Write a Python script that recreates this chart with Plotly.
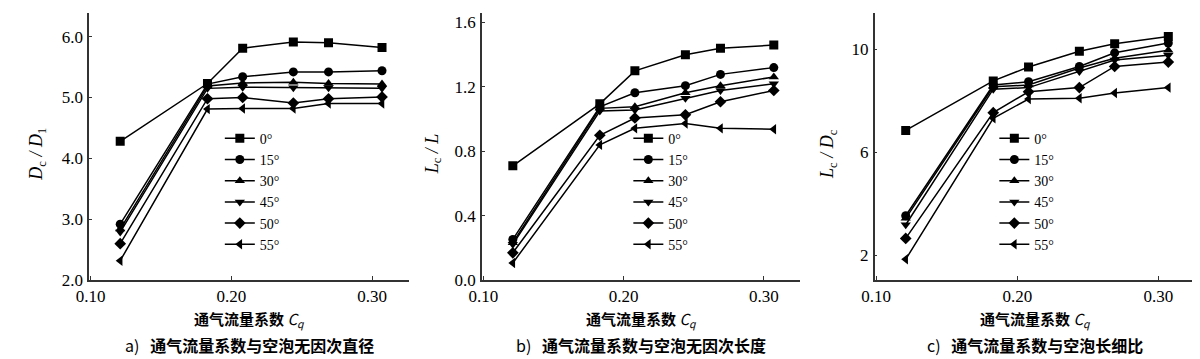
import plotly.graph_objects as go

# ---------------- data ----------------
cq = [0.121, 0.183, 0.208, 0.244, 0.269, 0.307]
angle_labels = ["0°", "15°", "30°", "45°", "50°", "55°"]
symbols = ["square", "circle", "triangle-up", "triangle-down", "diamond", "triangle-left"]

# a) Dc/D1
dcd1_0 = [4.28, 5.23, 5.81, 5.91, 5.90, 5.82]
dcd1_15 = [2.92, 5.22, 5.34, 5.42, 5.42, 5.44]
dcd1_30 = [2.84, 5.19, 5.24, 5.25, 5.23, 5.22]
dcd1_45 = [2.79, 5.15, 5.17, 5.16, 5.16, 5.15]
dcd1_50 = [2.60, 4.98, 5.00, 4.91, 4.98, 5.01]
dcd1_55 = [2.32, 4.81, 4.82, 4.82, 4.90, 4.90]

# b) Lc/L
lcl_0 = [0.71, 1.095, 1.30, 1.40, 1.44, 1.46]
lcl_15 = [0.253, 1.077, 1.164, 1.208, 1.278, 1.32]
lcl_30 = [0.233, 1.067, 1.077, 1.164, 1.208, 1.262]
lcl_45 = [0.223, 1.05, 1.057, 1.13, 1.178, 1.22]
lcl_50 = [0.17, 0.90, 1.007, 1.027, 1.108, 1.178]
lcl_55 = [0.107, 0.84, 0.943, 0.973, 0.943, 0.937]

# c) Lc/Dc
lcdc_0 = [6.85, 8.77, 9.31, 9.92, 10.21, 10.49]
lcdc_15 = [3.54, 8.61, 8.74, 9.33, 9.86, 10.24]
lcdc_30 = [3.44, 8.54, 8.61, 9.27, 9.65, 9.96]
lcdc_45 = [3.19, 8.45, 8.51, 9.14, 9.58, 9.77]
lcdc_50 = [2.66, 7.54, 8.35, 8.51, 9.33, 9.50]
lcdc_55 = [1.85, 7.32, 8.07, 8.10, 8.30, 8.51]

panel_series = [
    [dcd1_0, dcd1_15, dcd1_30, dcd1_45, dcd1_50, dcd1_55],
    [lcl_0, lcl_15, lcl_30, lcl_45, lcl_50, lcl_55],
    [lcdc_0, lcdc_15, lcdc_30, lcdc_45, lcdc_50, lcdc_55],
]

x_title = "<b>通气流量系数</b> <i>C</i><sub><i>q</i></sub>"
y_titles = [
    "<i>D</i><sub>c</sub><i> / D</i><sub>1</sub>",
    "<i>L</i><sub>c</sub><i> / L</i>",
    "<i>L</i><sub>c</sub><i> / D</i><sub>c</sub>",
]
captions = [
    "a)   <b>通气流量系数与空泡无因次直径</b>",
    "b)   <b>通气流量系数与空泡无因次长度</b>",
    "c)   <b>通气流量系数与空泡长细比</b>",
]
y_ranges = [[2.0, 6.39], [0.0, 1.66], [1.04, 11.41]]
y_ticks = [[2, 3, 4, 5, 6], [0, 0.4, 0.8, 1.2, 1.6], [2, 6, 10]]
y_formats = [".1f", ".1f", "d"]
x_ticks = [0.10, 0.20, 0.30]

# ---------------- layout geometry ----------------
W, H = 1200, 359
x_doms_px = [(69, 392), (466, 788), (863, 1187)]
y_dom_px = (5, 280)
legend_left_px = [201, 614, 984]
ytitle_x_px = [17, 417, 817]

serif = "Liberation Serif"
cjk = "Noto Sans CJK SC"

fig = go.Figure()
axis_line = "#333333"

for p in range(3):
    sfx = "" if p == 0 else str(p + 1)
    for i, ys in enumerate(panel_series[p]):
        fig.add_trace(go.Scatter(
            x=cq, y=ys, mode="lines+markers", name=angle_labels[i],
            xaxis="x" + sfx, yaxis="y" + sfx,
            legend="legend" + sfx,
            line=dict(color="black", width=1.5),
            marker=dict(symbol=symbols[i], size=9, color="black"),
        ))
    x0, x1 = x_doms_px[p]
    fig.layout["xaxis" + sfx] = dict(
        domain=[x0 / W, x1 / W], anchor="y" + sfx,
        range=[0.099, 0.326], tickvals=x_ticks, tickformat=".2f",
        showgrid=False, zeroline=False, showline=True, linecolor=axis_line, linewidth=1.5,
        ticks="inside", ticklen=4, tickcolor=axis_line,
        tickfont=dict(family=serif, size=17, color="black"),
    )
    fig.layout["yaxis" + sfx] = dict(
        domain=[1 - y_dom_px[1] / H, 1 - y_dom_px[0] / H], anchor="x" + sfx,
        range=y_ranges[p], tickvals=y_ticks[p], tickformat=y_formats[p],
        showgrid=False, zeroline=False, showline=True, linecolor=axis_line, linewidth=1.5,
        ticks="inside", ticklen=3, tickcolor=axis_line,
        tickfont=dict(family=serif, size=17, color="black"),
        ticklabelstandoff=1,
    )
    fig.layout["legend" + sfx] = dict(
        x=legend_left_px[p] / W, xanchor="left",
        y=1 - 118 / H, yanchor="top",
        bgcolor="rgba(0,0,0,0)", borderwidth=0,
        font=dict(family=serif, size=14, color="black"),
        tracegroupgap=0, itemclick=False,
    )
    cx = (x0 + x1) / 2 / W
    fig.add_annotation(
        x=cx, y=1 - 320 / H, xref="paper", yref="paper",
        text=x_title, showarrow=False,
        font=dict(family=cjk, size=15, color="black"),
        xanchor="center", yanchor="middle",
    )
    fig.add_annotation(
        x=cx, y=1 - 347 / H, xref="paper", yref="paper",
        text=captions[p], showarrow=False,
        font=dict(family=cjk, size=16, color="black"),
        xanchor="center", yanchor="middle",
    )
    fig.add_annotation(
        x=ytitle_x_px[p] / W, y=1 - 150 / H, xref="paper", yref="paper",
        text=y_titles[p], showarrow=False, textangle=-90,
        font=dict(family=serif, size=18, color="black"),
        xanchor="center", yanchor="middle",
    )

fig.update_layout(
    width=W, height=H,
    margin=dict(l=0, r=0, t=0, b=0),
    paper_bgcolor="white", plot_bgcolor="white",
    showlegend=True,
)

fig.write_html("out.html")
